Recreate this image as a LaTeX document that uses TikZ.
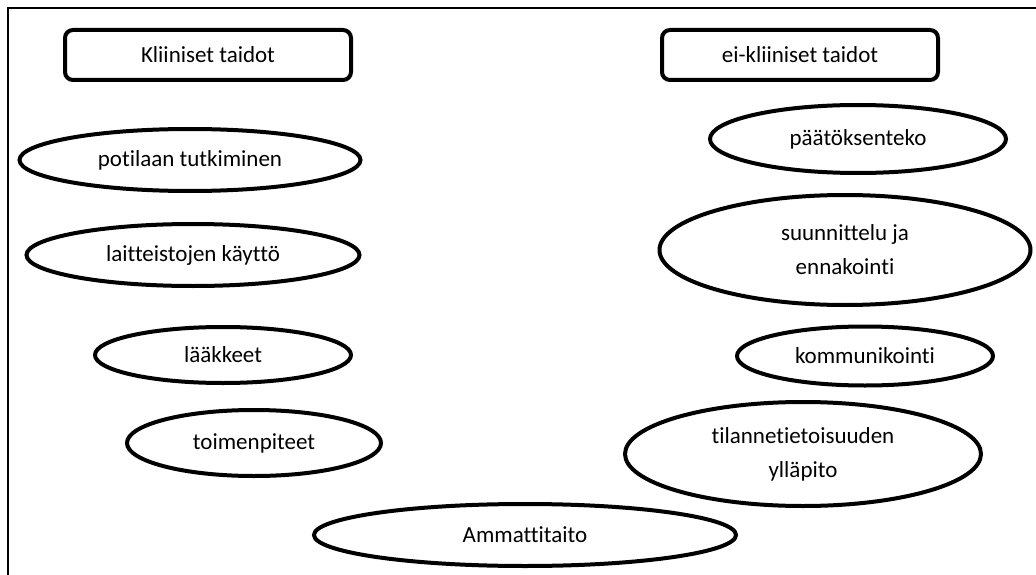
\documentclass[tikz,border=0pt]{standalone}
\usepackage{fontspec}
\setmainfont{Carlito}[Ligatures=NoCommon]
\usetikzlibrary{shapes.geometric}

\begin{document}
\begin{tikzpicture}[x=1pt, y=-1pt,
    skillbox/.style={draw, line width=4pt, rounded corners=8pt, inner sep=0pt, minimum height=50pt},
    skill/.style={draw, ellipse, line width=4pt, inner sep=0pt, align=center},
    every node/.style={font=\fontsize{23}{34}\selectfont}]
    \useasboundingbox (0,0) rectangle (1036,575);

    % Frame
    \draw[line width=1.5pt] (8,575) -- (8,8) -- (1036,8);

    % Headings
    \node[skillbox, minimum width=286pt] (klin) at (208,55) {Kliiniset taidot};
    \node[skillbox, minimum width=276pt] (eiklin) at (800,55) {ei-kliiniset taidot};

    % Clinical skills
    \node[skill, minimum width=341pt, minimum height=62pt] (potilas) at (190,160) {potilaan tutkiminen};
    \node[skill, minimum width=333pt, minimum height=62pt] (laitteet) at (193,255) {laitteistojen käyttö};
    \node[skill, minimum width=256pt, minimum height=56pt] (laakkeet) at (223,355) {lääkkeet};
    \node[skill, minimum width=254pt, minimum height=66pt] (toimet) at (254,443) {toimenpiteet};

    % Non-clinical skills
    \node[skill, minimum width=296pt, minimum height=68pt] (paatos) at (858,139) {päätöksenteko};
    \node[skill, minimum width=371pt, minimum height=110pt] (suunn) at (845,250) {suunnittelu ja\\ennakointi};
    \node[skill, minimum width=256pt, minimum height=59pt] (kommu) at (865,356) {kommunikointi};
    \node[skill, minimum width=356pt, minimum height=104pt] (tilanne) at (803,454) {tilannetietoisuuden\\ylläpito};

    % Bottom
    \node[skill, minimum width=422pt, minimum height=62pt] (ammatti) at (525,535) {Ammattitaito};
\end{tikzpicture}
\end{document}
